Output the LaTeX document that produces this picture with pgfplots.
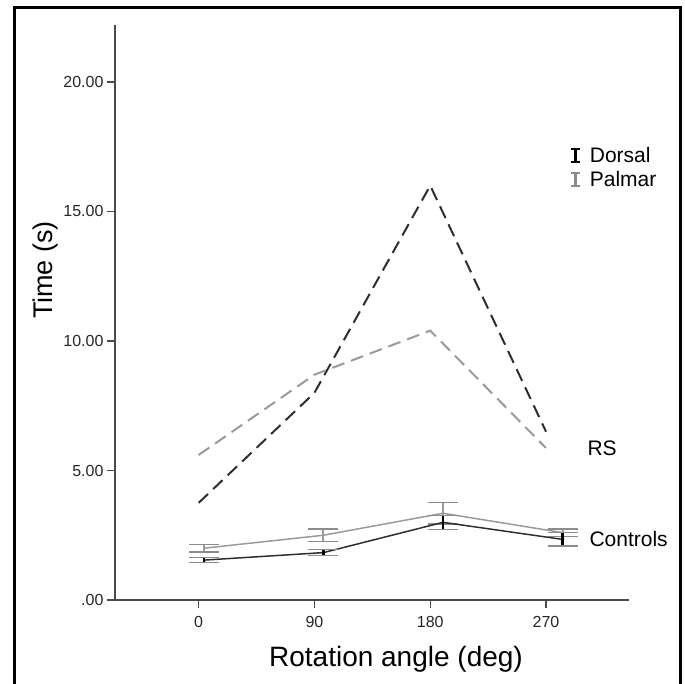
\documentclass[border=0pt]{standalone}
\usepackage{pgfplots}
\pgfplotsset{compat=1.18}
\usepackage{fontspec}
\setmainfont{Liberation Sans}

\definecolor{dors}{HTML}{2E2E2E}
\definecolor{palm}{HTML}{9A9A9A}
\definecolor{capgray}{HTML}{8C8C8C}
\definecolor{axgray}{HTML}{4A4A4A}

\begin{document}
\begin{tikzpicture}[x=1pt,y=1pt]
\useasboundingbox (0,0) rectangle (685,-683);
% outer frame
\draw[line width=3pt] (14,-690) -- (14,-7.5) -- (680.5,-7.5) -- (680.5,-690);

\begin{axis}[
  at={(115pt,-600pt)}, anchor=south west,
  width=514pt, height=575pt, scale only axis,
  xmin=-65, xmax=334.5, ymin=0, ymax=22.2,
  axis lines*=left,
  axis line style={axgray, line width=1.3pt, -},
  xtick={0,90,180,270}, xticklabels={0,90,180,270},
  ytick={0,5,10,15,20}, yticklabels={.00,5.00,10.00,15.00,20.00},
  tick align=outside, major tick length=8pt,
  tick style={axgray, line width=1.3pt},
  ticklabel style={font=\fontsize{16}{18}\selectfont, text=black!85},
  xticklabel style={yshift=-5pt},
  clip=false,
  legend style={at={(rel axis cs:0.885,0.792)}, anchor=north west,
    draw=none, fill=none, font=\fontsize{21}{24}\selectfont,
    inner sep=0pt, row sep=4pt},
  legend cell align=left,
]
% RS (patients), dashed
\addplot[dors, line width=2pt, dash pattern=on 13pt off 7pt, forget plot]
  coordinates {(0,3.75) (90,8.0) (180,16.0) (270,6.5)};
\addplot[palm, line width=2pt, dash pattern=on 13pt off 7pt, forget plot]
  coordinates {(0,5.6) (90,8.7) (180,10.4) (270,5.87)};

% Controls, solid with error bars
\addplot[palm, line width=1.5pt, mark=none, forget plot,
  error bars/.cd, y dir=both, y explicit, error mark=|,
  error bar style={palm, line width=2pt},
  error mark options={capgray, line width=1.5pt, mark size=15pt}]
  coordinates {(4,2.0) +- (0,0.15) (97,2.5) +- (0,0.24)
               (190,3.35) +- (0,0.42) (283,2.6) +- (0,0.14)};
\addplot[dors, line width=1.5pt, mark=none, forget plot,
  error bars/.cd, y dir=both, y explicit, error mark=|,
  error bar style={black, line width=2.5pt},
  error mark options={capgray, line width=1.5pt, mark size=15pt}]
  coordinates {(4,1.54) +- (0,0.10) (97,1.83) +- (0,0.12)
               (190,3.0) +- (0,0.27) (283,2.34) +- (0,0.26)};

\addlegendimage{legend image code/.code={
  \draw[black, line width=2.5pt] (4pt,-6.5pt) -- (4pt,6.5pt);
  \draw[black, line width=1.8pt] (-0.5pt,-6.5pt) -- (8.5pt,-6.5pt) (-0.5pt,6.5pt) -- (8.5pt,6.5pt);}}
\addlegendentry{\hspace{7pt}Dorsal}
\addlegendimage{legend image code/.code={
  \draw[capgray, line width=2.5pt] (4pt,-6.5pt) -- (4pt,6.5pt);
  \draw[capgray, line width=1.8pt] (-0.5pt,-6.5pt) -- (8.5pt,-6.5pt) (-0.5pt,6.5pt) -- (8.5pt,6.5pt);}}
\addlegendentry{\hspace{7pt}Palmar}
\end{axis}

\node[anchor=base west, font=\fontsize{21}{24}\selectfont] at (584,-455) {RS};
\node[anchor=base west, font=\fontsize{21}{24}\selectfont] at (586,-546) {Controls};
\node[anchor=base, font=\fontsize{28}{32}\selectfont] at (396,-666) {Rotation angle (deg)};
\node[anchor=base, rotate=90, font=\fontsize{27}{32}\selectfont] at (52,-270) {Time (s)};
\end{tikzpicture}
\end{document}
